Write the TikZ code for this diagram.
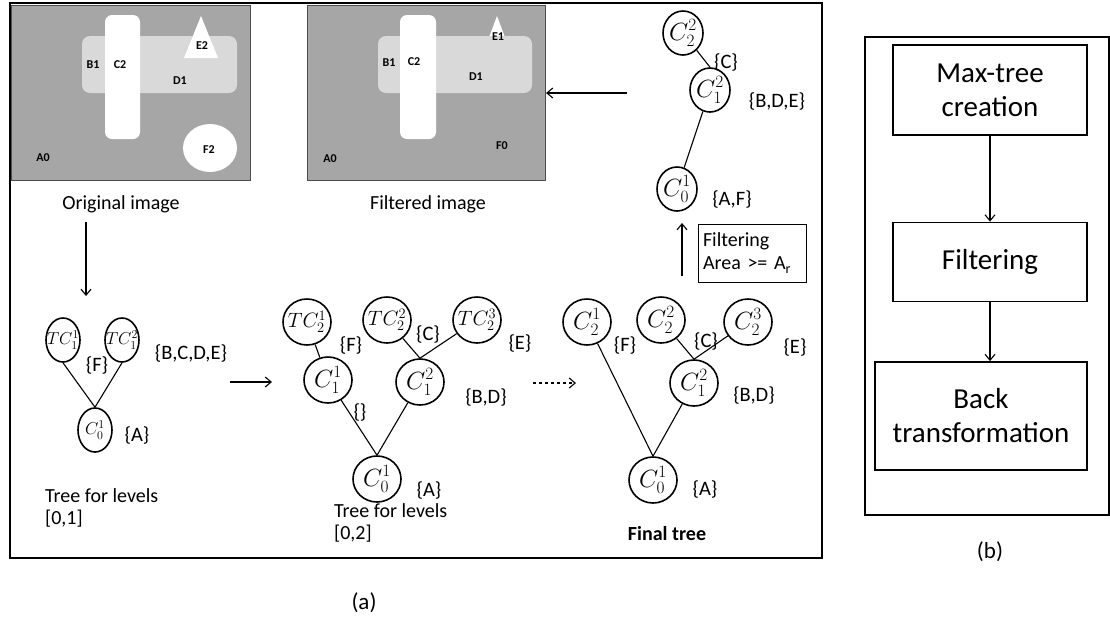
\documentclass[tikz,border=0pt]{standalone}
\usepackage{fontspec}
\setmainfont{Carlito}
\usetikzlibrary{arrows.meta,shapes.geometric}
\DeclareMathSizes{25}{25}{19}{15}
\DeclareMathSizes{21}{21}{15}{11}
\DeclareMathSizes{16}{16}{12}{9}
\DeclareMathSizes{23}{23}{17.5}{13}
\definecolor{dgray}{HTML}{A6A6A6}
\definecolor{lgray}{HTML}{D9D9D9}
\newcommand{\fx}[1]{\makebox[0pt]{$#1$}}
\begin{document}
\begin{tikzpicture}[x=1pt,y=-1pt,
  lbl/.style={font=\fontsize{20.5}{23}\selectfont, inner sep=0pt},
  imglbl/.style={font=\bfseries\fontsize{12}{13}\selectfont, inner sep=0pt},
  tnode/.style={draw, ellipse, line width=1.6pt, inner sep=0pt},
  small/.style={tnode, minimum width=34pt, minimum height=44pt, font=\fontsize{16}{17}\selectfont},
  mid/.style={tnode, minimum width=48pt, minimum height=46pt, font=\fontsize{25}{26}\selectfont},
  tcf/.style={font=\fontsize{21}{22}\selectfont},
  rnode/.style={tnode, minimum width=40pt, minimum height=44pt, font=\fontsize{23}{24}\selectfont},
  edge/.style={line width=1.1pt},
  arr/.style={line width=1.1pt, -{Straight Barb[length=6pt,width=10pt]}},
  stepbox/.style={draw, line width=1.8pt, align=center, font=\fontsize{29}{34}\selectfont, inner sep=0pt},
  frame/.style={draw, line width=1.5pt}
]
\useasboundingbox (0,0) rectangle (1110,619);
% frames
\draw[frame] (10,3) rectangle (822,558);
\draw[frame] (865,37) rectangle (1109,515);

% original image
\fill[dgray] (11,5) rectangle (250,180);
\draw[gray!60!black, line width=0.8pt] (11,5) rectangle (250,180);
\fill[lgray, rounded corners=8pt] (82,36) rectangle (237,93);
\fill[white, rounded corners=7pt] (105,15) rectangle (140,139);
\fill[white] (201,16) -- (218,58) -- (184,58) -- cycle;
\fill[white] (210,148) ellipse [x radius=27, y radius=24];
\node[imglbl] (ob1) at (93,65) {B1};
\node[imglbl] (oc2) at (120,65) {C2};
\node[imglbl] (oe2) at (202,46) {E2};
\node[imglbl] (od1) at (180,81) {D1};
\node[imglbl] (of2) at (209,150) {F2};
\node[imglbl] (oa0) at (43,158) {A0};
\node[lbl, font=\fontsize{20}{22}\selectfont] (origt) at (121,204) {Original image};

% filtered image
\fill[dgray] (307,5) rectangle (545,180);
\draw[gray!60!black, line width=0.8pt] (307,5) rectangle (545,180);
\fill[white] (497,16) -- (506,40) -- (488,40) -- cycle;
\fill[lgray, rounded corners=8pt] (378,36) rectangle (532,93);
\fill[white, rounded corners=7pt] (400,15) rectangle (436,139);
\node[imglbl] (fe1) at (498,37) {E1};
\node[imglbl] (fb1) at (389,63) {B1};
\node[imglbl] (fc2) at (414,62) {C2};
\node[imglbl] (fd1) at (476,77) {D1};
\node[imglbl] (ff0) at (502,146) {F0};
\node[imglbl] (fa0) at (330,159) {A0};
\node[lbl, font=\fontsize{20}{22}\selectfont] (filtt) at (428,204) {Filtered image};

% right tree
\node[rnode] (r22) at (683,33) {\fx{C_2^2}};
\node[rnode] (r12) at (710,90) {\fx{C_1^2}};
\node[rnode] (r01) at (677,189) {\fx{C_0^1}};
\draw[edge] (r22) -- (r12.north);
\draw[edge] (r12) -- (r01);
\node[lbl] (lc) at (726,62) {\{C\}};
\node[lbl] (lbde) at (777,101) {\{B,D,E\}};
\node[lbl] (laf) at (732,199) {\{A,F\}};
\node[draw, line width=0.9pt, align=left, font=\fontsize{20}{23}\selectfont, inner sep=0pt, minimum width=108pt, minimum height=58pt, text width=98pt] (filt) at (752,253) {Filtering\\Area >= A\textsubscript{r}};
\coordinate (fa) at (682,276);
\coordinate (fb) at (682,223);
\draw[arr] (fa) -- (fb);
\coordinate (ha) at (627,93);
\coordinate (hb) at (546,93);
\draw[arr] (ha) -- (hb);

% arrow down
\coordinate (da) at (86,222);
\coordinate (db) at (86,296);
\draw[arr] (da) -- (db);

% tree 1
\node[small] (t11) at (63,340) {\fx{TC_1^1}};
\node[small] (t12) at (122,340) {\fx{TC_1^2}};
\node[small] (t01) at (95,430) {\fx{C_0^1}};
\draw[edge] (t11.south) -- (t01.north);
\draw[edge] (t12.south) -- (t01.north);
\node[lbl] at (97,365) {\{F\}};
\node[lbl] at (191,353) {\{B,C,D,E\}};
\node[lbl] at (137,435) {\{A\}};
\node[lbl, anchor=north west, align=left, font=\fontsize{20}{22}\selectfont] (tl1) at (45,488) {Tree for levels\\{[0,1]}};

\coordinate (aa) at (230,382);
\coordinate (ab) at (272,382);
\draw[arr] (aa) -- (ab);

% tree 2
\node[mid, tcf] (u21) at (307,322) {\fx{TC_2^1}};
\node[mid, tcf] (u22) at (387,320) {\fx{TC_2^2}};
\node[mid, tcf] (u23) at (477,320) {\fx{TC_2^3}};
\node[mid] (u11) at (328,380) {\fx{C_1^1}};
\node[mid] (u12) at (420,382) {\fx{C_1^2}};
\node[mid] (u01) at (377,479) {\fx{C_0^1}};
\draw[edge] (u21) -- (u11);
\draw[edge] (u22) -- (u12.north);
\draw[edge] (u23) -- (u12.north);
\draw[edge] (u11) -- (u01.north);
\draw[edge] (u12) -- (u01.north);
\node[lbl] at (351,345) {\{F\}};
\node[lbl] at (428,334) {\{C\}};
\node[lbl] at (520,343) {\{E\}};
\node[lbl] at (486,397) {\{B,D\}};
\node[lbl] at (360,412) {\{\}};
\node[lbl] at (429,490) {\{A\}};
\node[lbl, anchor=north west, align=left, font=\fontsize{20}{22}\selectfont] (tl2) at (334,503) {Tree for levels\\{[0,2]}};

\coordinate (ba) at (533,383);
\coordinate (bb) at (576,383);
\draw[arr, dashed] (ba) -- (bb);

% final tree
\node[mid] (v21) at (587,322) {\fx{C_2^1}};
\node[mid] (v22) at (661,320) {\fx{C_2^2}};
\node[mid] (v23) at (748,322) {\fx{C_2^3}};
\node[mid] (v12) at (694,383) {\fx{C_1^2}};
\node[mid] (v01) at (653,480) {\fx{C_0^1}};
\draw[edge] (v21) -- (v01.north);
\draw[edge] (v22) -- (v12.north);
\draw[edge] (v23) -- (v12.north);
\draw[edge] (v12) -- (v01.north);
\node[lbl] at (625,345) {\{F\}};
\node[lbl] at (706,341) {\{C\}};
\node[lbl] at (795,347) {\{E\}};
\node[lbl] at (754,395) {\{B,D\}};
\node[lbl] at (705,489) {\{A\}};
\node[lbl, font=\bfseries\fontsize{20}{22}\selectfont] (ft) at (667,534) {Final tree};

\node[lbl, font=\fontsize{23}{25}\selectfont] (la) at (364,603) {(a)};

% (b)
\node[stepbox, minimum width=194pt, minimum height=90pt] (s1) at (990,90) {Max-tree\\creation};
\node[stepbox, minimum width=194pt, minimum height=79pt] (s2) at (990,262) {Filtering};
\node[stepbox, minimum width=212pt, minimum height=108pt] (s3) at (981,416) {Back\\transformation};
\draw[arr] (s1) -- (s2);
\draw[arr] (s2) -- (s3.north -| s2);
\node[lbl, font=\fontsize{23}{25}\selectfont] (lb) at (990,552) {(b)};
\end{tikzpicture}
\end{document}
